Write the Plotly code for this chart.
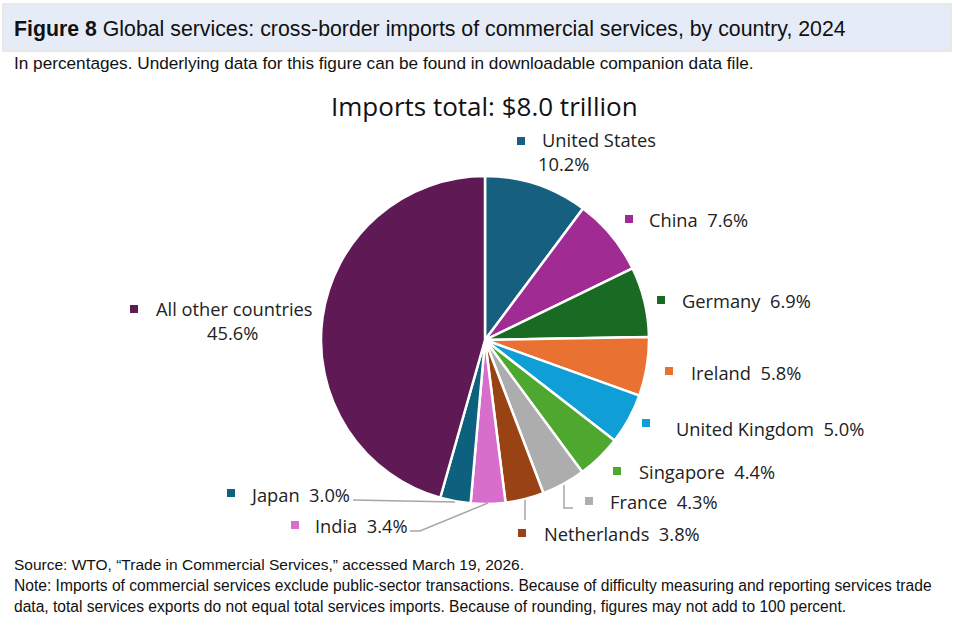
import plotly.graph_objects as go

W, H = 958, 628

countries = ["United States", "China", "Germany", "Ireland", "United Kingdom",
             "Singapore", "France", "Netherlands", "India", "Japan",
             "All other countries"]
shares = [10.2, 7.6, 6.9, 5.8, 5.0, 4.4, 4.3, 3.8, 3.4, 3.0, 45.6]
colors = ["#175F7F", "#A02B93", "#196B24", "#E97132", "#0F9ED5",
          "#4EA72E", "#ADADAD", "#994213", "#D86ECC", "#0E607F", "#5F1A55"]

chart_title = "Imports total: $8.0 trillion"
header_bold = "Figure 8"
header_text = " Global services: cross-border imports of commercial services, by country, 2024"
subtitle = "In percentages. Underlying data for this figure can be found in downloadable companion data file."
source = "Source: WTO, \u201cTrade in Commercial Services,\u201d accessed March 19, 2026."
note1 = "Note: Imports of commercial services exclude public-sector transactions. Because of difficulty measuring and reporting services trade"
note2 = "data, total services exports do not equal total services imports. Because of rounding, figures may not add to 100 percent."

def px(x):
    return x / W

def py(y):
    return 1 - y / H

# pie geometry (pixels)
CX, CY, R = 485, 340, 164

LABEL_FONT = "Open Sans, Lato, sans-serif"
TEXT_FONT = "Liberation Sans, Arial, sans-serif"
LS = 18.3

fig = go.Figure()
fig.add_trace(go.Pie(
    labels=countries, values=shares, sort=False, direction="clockwise",
    rotation=0, marker=dict(colors=colors, line=dict(color="white", width=2.5)),
    textinfo="none", hoverinfo="label+percent", showlegend=False,
    domain=dict(x=[px(CX - R), px(CX + R)], y=[py(CY + R), py(CY - R)]),
))

# label layout: (square x, square y, text x-left, text y, one-line?, [pct x, pct y])
label_pos = {
    "United States": (521, 141, 540, 140, False, 563, 164),
    "China": (629, 219, 647, 219, True),
    "Germany": (661, 300, 680, 300, True),
    "Ireland": (669, 371, 689, 372, True),
    "United Kingdom": (646, 423, 674, 428, True),
    "Singapore": (617, 471, 637, 471, True),
    "France": (589, 501, 608, 501, True),
    "Netherlands": (522, 533, 542, 533, True),
    "India": (295, 525, 313, 525, True),
    "Japan": (231, 493, 248, 494, True),
    "All other countries": (134, 309, 154, 308, False, 232, 332),
}

shapes = []
annotations = []
for name, val, col in zip(countries, shares, colors):
    p = label_pos[name]
    sx, sy = p[0], p[1]
    shapes.append(dict(type="rect", xref="paper", yref="paper",
                       x0=px(sx - 4), x1=px(sx + 4), y0=py(sy + 4), y1=py(sy - 4),
                       fillcolor=col, line=dict(width=0)))
    if p[4]:
        annotations.append(dict(x=px(p[2]), y=py(p[3]), xref="paper", yref="paper",
                                text=f"{name}  {val:.1f}%", showarrow=False,
                                xanchor="left", yanchor="middle",
                                font=dict(family=LABEL_FONT, size=LS, color="#222222")))
    else:
        annotations.append(dict(x=px(p[2]), y=py(p[3]), xref="paper", yref="paper",
                                text=name, showarrow=False,
                                xanchor="left", yanchor="middle",
                                font=dict(family=LABEL_FONT, size=LS, color="#222222")))
        annotations.append(dict(x=px(p[5]), y=py(p[6]), xref="paper", yref="paper",
                                text=f"{val:.1f}%", showarrow=False,
                                xanchor="center", yanchor="middle",
                                font=dict(family=LABEL_FONT, size=LS, color="#222222")))

# leader lines
def path(points):
    d = "M " + " L ".join(f"{px(x)},{py(y)}" for x, y in points)
    return dict(type="path", xref="paper", yref="paper", path=d,
                line=dict(color="#A6A6A6", width=1.5))

shapes.append(path([(353, 500), (455, 502)]))
shapes.append(path([(410, 531), (420, 531), (488, 503)]))
shapes.append(path([(525, 500), (525, 520)]))
shapes.append(path([(564, 485), (564, 508), (573, 508)]))

# header box
shapes.insert(0, dict(type="rect", xref="paper", yref="paper",
                      x0=px(3), x1=px(951), y0=py(51), y1=py(4),
                      fillcolor="#E5ECF7", line=dict(color="#E8E8E8", width=2)))

annotations += [
    dict(x=px(12), y=py(29), xref="paper", yref="paper", showarrow=False,
         xanchor="left", yanchor="middle",
         text=f"<b>{header_bold}</b>{header_text}",
         font=dict(family=TEXT_FONT, size=21.3, color="#111111")),
    dict(x=px(12), y=py(63), xref="paper", yref="paper", showarrow=False,
         xanchor="left", yanchor="middle", text=subtitle,
         font=dict(family=TEXT_FONT, size=17.2, color="#111111")),
    dict(x=px(485), y=py(106), xref="paper", yref="paper", showarrow=False,
         xanchor="center", yanchor="middle", text=chart_title,
         font=dict(family=LABEL_FONT, size=26, color="#111111")),
    dict(x=px(12), y=py(564), xref="paper", yref="paper", showarrow=False,
         xanchor="left", yanchor="middle", text=source,
         font=dict(family=TEXT_FONT, size=15.5, color="#111111")),
    dict(x=px(12), y=py(585), xref="paper", yref="paper", showarrow=False,
         xanchor="left", yanchor="middle", text=note1,
         font=dict(family=TEXT_FONT, size=15.6, color="#111111")),
    dict(x=px(12), y=py(606), xref="paper", yref="paper", showarrow=False,
         xanchor="left", yanchor="middle", text=note2,
         font=dict(family=TEXT_FONT, size=15.6, color="#111111")),
]

fig.update_layout(width=W, height=H, margin=dict(l=0, r=0, t=0, b=0),
                  paper_bgcolor="white", plot_bgcolor="white",
                  shapes=shapes, annotations=annotations)

fig.write_html("out.html")
